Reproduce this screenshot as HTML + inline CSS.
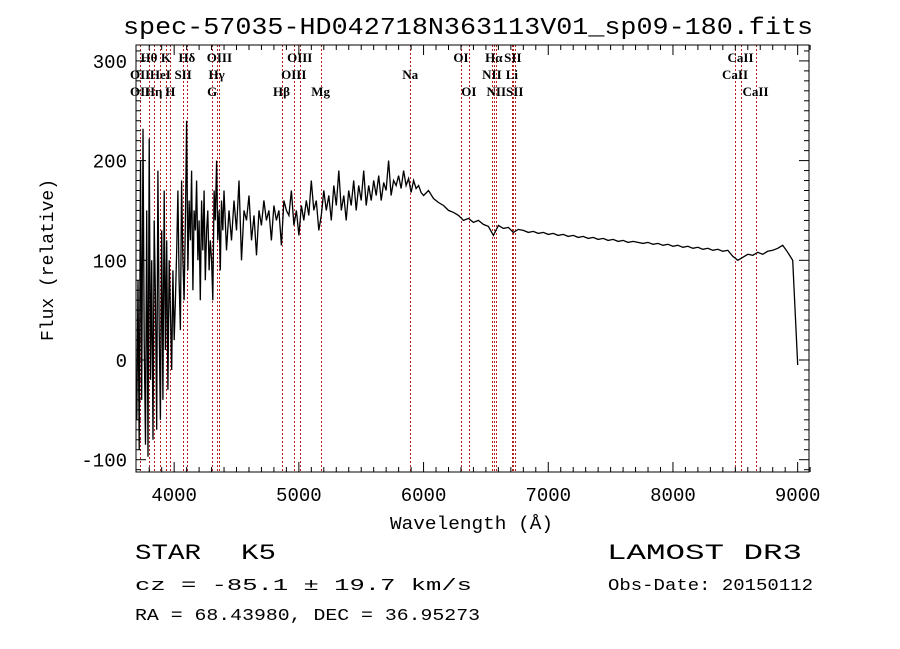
<!DOCTYPE html>
<html><head><meta charset="utf-8"><style>
body{margin:0;background:#fff}
svg{display:block}
text{font-family:"Liberation Mono",monospace;fill:#000}
.lab{font-family:"Liberation Serif",serif;font-size:13px;font-weight:bold}
</style></head><body>
<svg id="chart" width="900" height="649" viewBox="0 0 900 649">
<text x="123" y="34" font-size="24" textLength="690" lengthAdjust="spacingAndGlyphs">spec-57035-HD042718N363113V01_sp09-180.fits</text>
<g id="lines"></g>
<g id="labels"></g>
<path id="spec" fill="none" stroke="#000" stroke-width="1.3"/>
<rect x="136" y="45" width="673" height="427" fill="none" stroke="#000" stroke-width="1"/>
<g id="ticks" stroke="#000" stroke-width="1"></g>
<g id="ticklabels"></g>
<text x="390" y="529" font-size="18" textLength="163" lengthAdjust="spacingAndGlyphs">Wavelength (Å)</text>
<text transform="translate(53,341) rotate(-90)" font-size="18" textLength="162" lengthAdjust="spacingAndGlyphs">Flux (relative)</text>
<text x="135" y="559" font-size="22" textLength="66" lengthAdjust="spacingAndGlyphs">STAR</text>
<text x="241" y="559" font-size="22" textLength="35" lengthAdjust="spacingAndGlyphs">K5</text>
<text x="135" y="590" font-size="17" textLength="337" lengthAdjust="spacingAndGlyphs">cz = -85.1 ± 19.7 km/s</text>
<text x="135" y="620" font-size="17" textLength="345" lengthAdjust="spacingAndGlyphs">RA =  68.43980, DEC =  36.95273</text>
<text x="607" y="559" font-size="22" textLength="195" lengthAdjust="spacingAndGlyphs">LAMOST DR3</text>
<text x="608" y="590" font-size="17" textLength="205" lengthAdjust="spacingAndGlyphs">Obs-Date: 20150112</text>
</svg>
<script>
const lineWaves=[3727,3798,3835,3889,3934,3969,4072,4102,4305,4340,4363,4861,4959,5007,5175,5893,6300,6363,6548,6563,6583,6708,6716,6731,8498,8542,8662];
const labelNames=["Hθ","K","Hδ","OIII","OIII","OI","Hα","SII","CaII","OII","HeI","SII","Hγ","OIII","Na","NII","Li","CaII","OII","Hη","H","G","Hβ","Mg","OI","NII","SII","CaII"];
const labelWaves=[3798,3934,4102,4363,5007,6300,6563,6716,8542,3727,3889,4072,4340,4959,5893,6548,6708,8498,3727,3835,3969,4305,4861,5175,6363,6583,6731,8662];
const labelRows=[0,0,0,0,0,0,0,0,0,1,1,1,1,1,1,1,1,1,2,2,2,2,2,2,2,2,2,2];
const xTicks=[4000,5000,6000,7000,8000,9000];
const yTicks=[-100,0,100,200,300];
const fluxBlue=[-60,80,-90,200,-40,232,20,-85,150,-97,222,-20,100,-80,140,60,-70,190,30,-60,130,-40,170,10,120,-30,100,50,-10,90,20,60,110,170,80,30,180,100,60,140,240,90,160,120,190,70,150,130,180,100,140,60,160,110,170,80,130,150,90,120,100,60,170,140,200,120,150,90,160,130];
const fluxMid=[170,110,150,120,160,130,180,100,150,140,165,120,145,105,150,135,160,140,150,120,155,140,150,115,160,150,145,170,135,150,125,155,140,160,145,180,150,160,130,145,170,150,165,140,175,155,190,150,165,140,170,155,180,150,175,160,190,155,175,160,180,165,185,160,178,170,200,165,180,175,185,172,190,175,182,168,180,172,175,168,165];
const fluxRed=[170,162,158,155,150,148,145,140,142,138,140,136,134,125,135,132,133,128,131,130,128,129,127,128,126,127,125,126,124,125,123,124,122,123,121,122,120,121,119,120,118,119,118,117,118,116,117,115,116,114,115,113,114,112,113,111,112,110,111,109,110,104,100,103,106,105,108,106,109,110,112,115,108,100,-5];
const X=w=>136.75+(w-3700)*0.1247;
const Y=v=>360-v*0.997;
const NS="http://www.w3.org/2000/svg";
function mk(tag,attrs,parent){const e=document.createElementNS(NS,tag);for(const k in attrs)e.setAttribute(k,attrs[k]);parent.appendChild(e);return e;}
const waves=[],flux=[];
fluxBlue.forEach((f,i)=>{waves.push(3700+i*10);flux.push(f);});
fluxMid.forEach((f,i)=>{waves.push(4400+i*20);flux.push(f);});
fluxRed.forEach((f,i)=>{waves.push(6040+i*40);flux.push(f);});
document.getElementById('spec').setAttribute('d',waves.map((w,i)=>(i?'L':'M')+X(w).toFixed(1)+' '+Y(flux[i]).toFixed(1)).join(''));
const lg=document.getElementById('lines');
lineWaves.forEach(w=>{
 const x=Math.round(X(w))+0.5;
 const l=mk('line',{x1:x,x2:x,y1:45,y2:472,stroke:'#b41e1e','stroke-width':1,'stroke-dasharray':'2,2'},lg);
 
 
});
const lb=document.getElementById('labels');
labelNames.forEach((n,i)=>{
 const t=mk('text',{x:X(labelWaves[i]),y:62+labelRows[i]*17,'text-anchor':'middle',class:'lab'},lb);
 t.textContent=n;
 
 
});
const tg=document.getElementById('ticks'),tl=document.getElementById('ticklabels');
for(let w=3800;w<=9100;w+=100){
 const major=w%1000===0,len=major?10:5,x=X(w);
 mk('line',{x1:x,x2:x,y1:472,y2:472-len},tg);
 mk('line',{x1:x,x2:x,y1:45,y2:45+len},tg);
}
for(let v=-110;v<=310;v+=10){
 const major=v%100===0,len=major?10:5,y=Y(v);
 mk('line',{x1:136,x2:136+len,y1:y,y2:y},tg);
 mk('line',{x1:809,x2:809-len,y1:y,y2:y},tg);
}
xTicks.forEach(w=>{
 const t=mk('text',{x:X(w),y:501,'text-anchor':'middle','font-size':19},tl);
 t.textContent=w;
 
 
});
yTicks.forEach(v=>{
 const t=mk('text',{x:127,y:Y(v)+7,'text-anchor':'end','font-size':19},tl);
 t.textContent=v;
 
 
});
</script>
</body></html>
